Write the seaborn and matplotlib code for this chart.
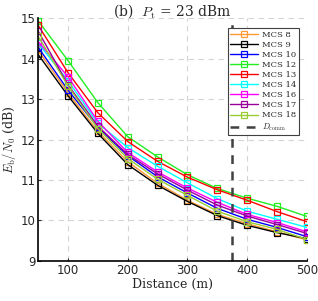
import numpy as np
import pandas as pd
import matplotlib
matplotlib.use("Agg")
import matplotlib.pyplot as plt
import seaborn as sns

# -----------------------------
# DATA
# -----------------------------
distance = [50, 100, 150, 200, 250, 300, 350, 400, 450, 500]

mcs8 = [14.20, 13.15, 12.20, 11.45, 10.92, 10.50, 10.15, 9.92, 9.72, 9.52]
mcs9 = [14.10, 13.08, 12.15, 11.38, 10.87, 10.47, 10.12, 9.88, 9.70, 9.55]
mcs10 = [14.28, 13.22, 12.30, 11.60, 11.08, 10.68, 10.30, 10.03, 9.83, 9.60]
mcs12 = [14.93, 13.95, 12.91, 12.07, 11.57, 11.13, 10.79, 10.55, 10.35, 10.10]
mcs13 = [14.82, 13.65, 12.66, 11.95, 11.46, 11.07, 10.76, 10.50, 10.22, 9.97]
mcs14 = [14.38, 13.45, 12.40, 11.80, 11.34, 10.93, 10.54, 10.23, 10.03, 9.83]
mcs16 = [14.42, 13.55, 12.45, 11.68, 11.20, 10.80, 10.45, 10.15, 9.95, 9.72]
mcs17 = [14.68, 13.35, 12.33, 11.63, 11.15, 10.75, 10.38, 10.11, 9.90, 9.68]
mcs18 = [14.55, 13.32, 12.27, 11.53, 11.02, 10.62, 10.23, 9.97, 9.78, 9.53]

d_comm = 375

labels = ["MCS 8", "MCS 9", "MCS 10", "MCS 12", "MCS 13",
          "MCS 14", "MCS 16", "MCS 17", "MCS 18"]
series = [mcs8, mcs9, mcs10, mcs12, mcs13, mcs14, mcs16, mcs17, mcs18]
colors = ["#FF9933", "#000000", "#0000FF", "#22EE22", "#FF0000",
          "#00FFFF", "#FF00FF", "#990099", "#99CC33"]

# -----------------------------
# STYLE
# -----------------------------
sns.set_style("whitegrid", {"grid.linestyle": (0, (5, 4)), "grid.color": "#D4D4D4"})
plt.rcParams["mathtext.fontset"] = "cm"
plt.rcParams["font.family"] = ["DejaVu Sans"]

fig, ax = plt.subplots(figsize=(3.18, 3.01), dpi=100)
fig.subplots_adjust(left=0.12, right=0.965, top=0.94, bottom=0.133)

for lab, vals, col in zip(labels, series, colors):
    sns.lineplot(x=distance, y=vals, ax=ax, color=col, marker="s",
                 markersize=4.5, markerfacecolor="none", markeredgecolor=col,
                 markeredgewidth=0.9, linewidth=1.0, label=lab)

ax.axvline(d_comm, color="#404040", linestyle=(0, (3.5, 3)), linewidth=1.8,
           label=r"$D_{\mathrm{comm}}$")

ax.set_xlim(50, 500)
ax.set_ylim(9, 15)
ax.set_xticks([100, 200, 300, 400, 500])
ax.set_yticks([9, 10, 11, 12, 13, 14, 15])
ax.tick_params(axis="both", labelsize=8.5, direction="in", length=2, width=0.8,
               pad=2, bottom=True, left=True)

for s in ["top", "right"]:
    ax.spines[s].set_visible(False)
for s in ["left", "bottom"]:
    ax.spines[s].set_color("black")
    ax.spines[s].set_linewidth(1.2)

ax.set_title(r"(b)  $P_{\mathrm{t}}$ = 23 dBm", fontsize=10, family="DejaVu Serif", pad=2)
ax.set_xlabel("Distance (m)", fontsize=9, family="DejaVu Serif", labelpad=1)
ax.set_ylabel(r"$E_{\mathrm{b}}/N_0$ (dB)", fontsize=9, family="DejaVu Serif", labelpad=2)

leg = ax.legend(loc="upper right", bbox_to_anchor=(0.985, 0.975),
                prop={"family": "DejaVu Serif", "size": 6}, frameon=True,
                fancybox=False, handlelength=3.4, labelspacing=0.25,
                borderpad=0.3, handletextpad=0.4)
leg.get_frame().set_edgecolor("#404040")
leg.get_frame().set_linewidth(0.8)
leg.get_frame().set_alpha(1)

plt.savefig("out.png", dpi=100)
